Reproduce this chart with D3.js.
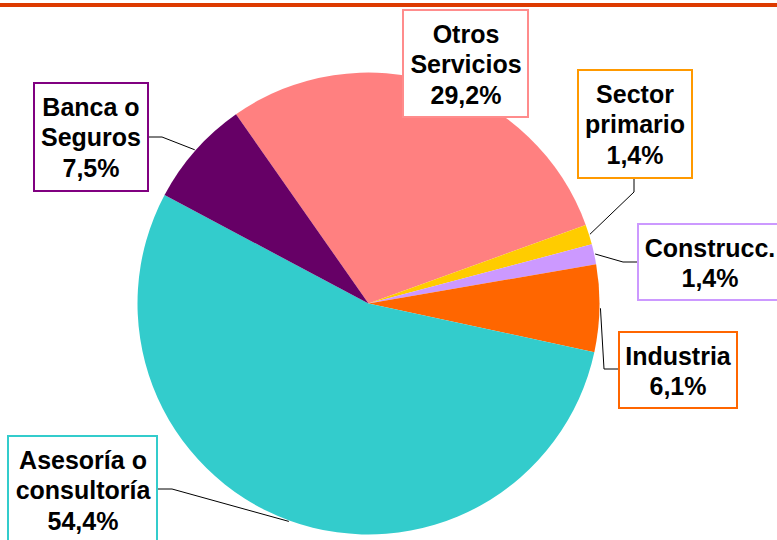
<!DOCTYPE html>
<html>
<head>
<meta charset="utf-8">
<script src="https://cdn.jsdelivr.net/npm/d3@7"></script>
<style>
  html, body { margin: 0; padding: 0; background: #fff; }
  svg { display: block; }
</style>
</head>
<body>
<svg id="chart" width="777" height="540"></svg>
<script>
// Sector shares (%), listed clockwise starting from "Otros Servicios"
const categories = ["Otros Servicios", "Sector primario", "Construcc.", "Industria", "Asesoría o consultoría", "Banca o Seguros"];
const labelLines = [["Otros", "Servicios"], ["Sector", "primario"], ["Construcc."], ["Industria"], ["Asesoría o", "consultoría"], ["Banca o", "Seguros"]];
const values = [29.2, 1.4, 1.4, 6.1, 54.4, 7.5];
const colors = ["#FF8080", "#FFCC00", "#CC99FF", "#FF6600", "#33CCCC", "#660066"];
const borderColors = ["#FF8C8C", "#FF9900", "#CC99FF", "#FF6600", "#33CCCC", "#800080"];

// Label box layout: [x, y, w, h], text centre x, elbow point and box anchor for the leader
const boxLayout = [
  { box: [403, 10, 125, 107], cx: 466, elbow: null, anchor: null },
  { box: [578, 70, 114, 108], cx: 635, elbow: [634, 192], anchor: [634, 178] },
  { box: [638, 224, 144, 76], cx: 710, elbow: [623, 262], anchor: [638, 262] },
  { box: [619, 332, 118, 76], cx: 678, elbow: [604, 369], anchor: [619, 369] },
  { box: [8, 436, 149, 112], cx: 83, elbow: [172, 489], anchor: [157, 489] },
  { box: [34, 83, 114, 108], cx: 91, elbow: [162, 137], anchor: [148, 137] }
];

const svg = d3.select("#chart");
const W = 777, H = 540;
const cx = 368.5, cy = 303.5, radius = 231;
const deg = Math.PI / 180;

// Orange rule across the top
svg.append("rect").attr("x", 0).attr("y", 3).attr("width", W).attr("height", 4).attr("fill", "#DD3A00");

const data = categories.map((c, i) => ({ name: c, value: values[i], color: colors[i], border: borderColors[i], lines: labelLines[i], layout: boxLayout[i] }));

const pie = d3.pie().sort(null).value(d => d.value)
  .startAngle(-35 * deg).endAngle(-35 * deg + 2 * Math.PI);
const arcs = pie(data);

const arc = d3.arc().innerRadius(0).outerRadius(radius);
const edge = d3.arc().innerRadius(radius + 1).outerRadius(radius + 1);

const g = svg.append("g").attr("transform", `translate(${cx},${cy})`);
g.selectAll("path.slice").data(arcs).join("path")
  .attr("class", "slice")
  .attr("d", arc)
  .attr("fill", d => d.data.color);

// Leader lines from slice edge to label boxes
const line = d3.line();
svg.selectAll("path.leader").data(arcs.filter(d => d.data.layout.elbow)).join("path")
  .attr("class", "leader")
  .attr("fill", "none")
  .attr("stroke", "#000")
  .attr("stroke-width", 1)
  .attr("d", d => {
    const p = edge.centroid(d);
    const L = d.data.layout;
    return line([[cx + p[0], cy + p[1]], L.elbow, L.anchor]);
  });

// Label boxes
const fmt = v => v.toFixed(1).replace(".", ",") + "%";
const labels = svg.selectAll("g.label").data(arcs).join("g").attr("class", "label");
labels.append("rect")
  .attr("x", d => d.data.layout.box[0])
  .attr("y", d => d.data.layout.box[1])
  .attr("width", d => d.data.layout.box[2])
  .attr("height", d => d.data.layout.box[3])
  .attr("fill", "#fff")
  .attr("stroke", d => d.data.border)
  .attr("stroke-width", 2);

labels.each(function(d) {
  const L = d.data.layout;
  const rows = d.data.lines.concat([fmt(d.data.value)]);
  const t = d3.select(this).append("text")
    .attr("text-anchor", "middle")
    .attr("font-family", "'Liberation Sans', Arial, Helvetica, sans-serif")
    .attr("font-weight", "bold")
    .attr("font-size", 25)
    .attr("fill", "#000");
  rows.forEach((r, i) => {
    t.append("tspan").attr("x", L.cx).attr("y", L.box[1] + 32.5 + i * 30.5).text(r);
  });
});
</script>
</body>
</html>
